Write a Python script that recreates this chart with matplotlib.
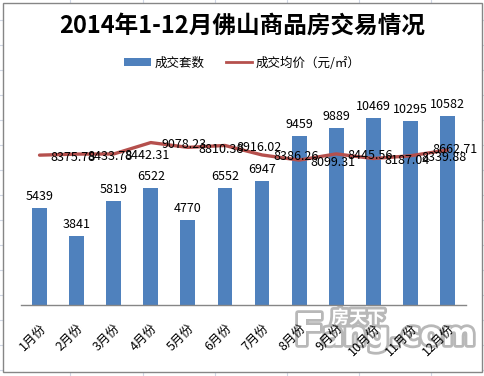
import matplotlib
matplotlib.use("Agg")
import matplotlib.pyplot as plt
import matplotlib.patheffects as pe
from matplotlib.lines import Line2D
from matplotlib.patches import Rectangle, Patch

plt.rcParams['font.family'] = ['Noto Sans CJK SC', 'DejaVu Sans']

months = ['1月份', '2月份', '3月份', '4月份', '5月份', '6月份',
          '7月份', '8月份', '9月份', '10月份', '11月份', '12月份']
deals = [5439, 3841, 5819, 6522, 4770, 6552, 6947, 9459, 9889, 10469, 10295, 10582]
avg_price = [8375.78, 8433.78, 8442.31, 9078.23, 8810.38, 8916.02,
             8386.26, 8099.31, 8445.56, 8187.04, 8339.88, 8662.71]

W, H = 485, 376
fig = plt.figure(figsize=(W / 100, H / 100), dpi=100)

# spreadsheet grid behind the chart frame
for gx in [70, 143, 215, 287, 359, 431]:
    fig.add_artist(Line2D([gx / W, gx / W], [0, 1], color='#D0D7E5', lw=0.8, zorder=0))
for gy in range(20, 376, 25):
    fig.add_artist(Line2D([0, 1], [1 - gy / H, 1 - gy / H], color='#D0D7E5', lw=0.8, zorder=0))
fig.add_artist(Rectangle((3 / W, 1 - 372 / H), 479 / W, 369 / H, facecolor='white',
                         edgecolor='#868686', lw=1, zorder=0.5))

ax = fig.add_axes([21 / W, 71 / H, 445 / W, 214.7 / H])
ax.set_zorder(2)
ax.patch.set_visible(False)
x = list(range(len(months)))

ax.bar(x, deals, width=0.40, color='#4F81BD', zorder=2)
ax.plot(x, avg_price, color='#B5504D', lw=2.4, solid_capstyle='round', zorder=3)

for i, v in enumerate(deals):
    ax.annotate(str(v), (i, v), xytext=(0, 5), textcoords='offset pixels',
                ha='center', va='bottom', fontsize=9, color='black', zorder=4)
for i, v in enumerate(avg_price):
    if i == len(avg_price) - 1:
        off, ha = (-15, 1), 'left'
    else:
        off, ha = (11, -2), 'left'
    ax.annotate(f'{v:.2f}', (i, v), xytext=off, textcoords='offset pixels',
                ha=ha, va='center', fontsize=9, color='black', zorder=4)

ax.set_xlim(-0.5, 11.5)
ax.set_ylim(0, 12000)
ax.set_yticks([])
for s in ['top', 'right', 'left']:
    ax.spines[s].set_visible(False)
ax.spines['bottom'].set_color('#868686')
ax.spines['bottom'].set_linewidth(1)
ax.set_xticks(x)
ax.set_xticklabels(months, rotation=45, ha='right', va='top',
                   rotation_mode='anchor', fontsize=9)
ax.tick_params(axis='x', length=0, pad=12)

fig.text(0.5, 1 - 26 / H, '2014年1-12月佛山商品房交易情况', ha='center', va='center',
         fontsize=17, fontweight='bold', color='black')

handles = [Patch(facecolor='#4F81BD', edgecolor='none'),
           Line2D([0], [0], color='#B5504D', lw=2)]
fig.legend(handles, ['成交套数', '成交均价（元/㎡）'], loc='center',
           bbox_to_anchor=(0.5, 1 - 63 / H), ncol=2, frameon=False, fontsize=9,
           handlelength=2.1, handleheight=0.6, columnspacing=1.7, handletextpad=0.3)

# watermark (under the tick labels, like the reference)
wm = [pe.withStroke(linewidth=4, foreground='#b8b8b8')]
fig.text(358 / W, 1 - 318 / H, '房天下', ha='center', va='center', fontsize=13,
         fontweight='bold', color='white', path_effects=wm, zorder=1)
fig.text(294 / W, 1 - 345 / H, 'F', ha='left', va='baseline', fontsize=32,
         fontweight='bold', color='white', path_effects=wm, zorder=1,
         family='DejaVu Sans')
fig.text(322 / W, 1 - 345 / H, 'ang.com', ha='left', va='baseline', fontsize=23,
         fontweight='bold', color='white', path_effects=wm, zorder=1,
         family='DejaVu Sans')

fig.savefig('out.png', dpi=100)
